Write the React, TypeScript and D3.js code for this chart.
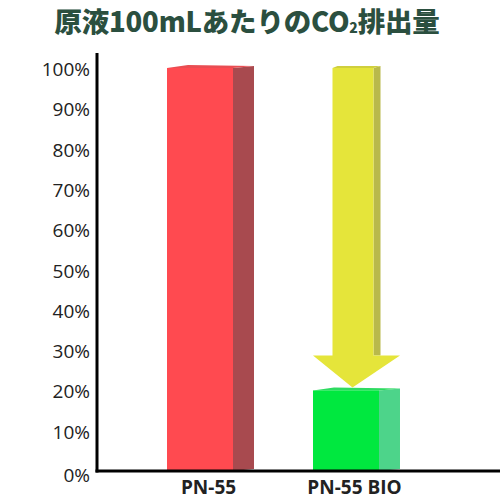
import * as d3 from "d3";

// chart data
const TITLE_MAIN = "原液100mLあたりのCO";
const TITLE_SUB = "2";
const TITLE_END = "排出量";
const CATEGORIES = ["PN-55", "PN-55 BIO"];
const VALUES = [100, 20];
const TICKS = [0, 10, 20, 30, 40, 50, 60, 70, 80, 90, 100];
const ARROW_FROM = 100;
const ARROW_TO = 20;

const FRONT = ["#ff4a50", "#00e83f"];
const SIDE = ["#a84a4f", "#4dd48a"];
const TOP = ["#e94d52", "#2edb60"];

export default function App() {
	const width = 500;
	const height = 500;
	const baseY = 471;
	const axisX = 97;

	const y = d3.scaleLinear().domain([0, 100]).range([baseY, 68]);
	const x = d3.scaleBand<string>().domain(CATEGORIES).range([87, 459]).padding(0.548);
	const depth = 21;
	const bw = x.bandwidth();

	// arrow sits over the second box (front + side)
	const bx = x(CATEGORIES[1])!;
	const arrowCx = bx + (bw + depth) / 2;
	const shaftW = 41;
	const headW = 87;
	const headH = 32;
	const tipY = y(ARROW_TO) - 3;
	const headTop = tipY - headH;
	const shaftTop = y(ARROW_FROM);
	const sx0 = arrowCx - 24;
	const sx1 = sx0 + shaftW;

	return (
		<svg width={width} height={height} style={{ position: "absolute", left: 0, top: 0, background: "#fff" }}>
			{/* Title */}
			<text
				x={247}
				y={32}
				textAnchor="middle"
				fontFamily="'Noto Sans CJK JP', sans-serif"
				fontWeight={900}
				fontSize={27.5}
				fill="#2b4f3f"
				letterSpacing={-0.2}
			>
				{TITLE_MAIN}
				<tspan fontSize={14} dy={1}>{TITLE_SUB}</tspan>
				<tspan dy={-1}>{TITLE_END}</tspan>
			</text>

			{/* Y tick labels */}
			{TICKS.map(t => (
				<text
					key={t}
					x={90}
					y={y(t) + (t === 0 ? 4 : 1)}
					dominantBaseline="central"
					textAnchor="end"
					fontFamily="'Open Sans', sans-serif"
					fontSize={19}
					fill="#222"
				>
					{t}%
				</text>
			))}

			{/* Bars with side/top faces */}
			{CATEGORIES.map((c, i) => {
				const x0 = x(c)!;
				const x1 = x0 + bw;
				const top = y(VALUES[i]);
				return (
					<g key={c}>
						<polygon
							points={`${x1},${top} ${x1 + depth},${top - 2} ${x1 + depth},${baseY - 2} ${x1},${baseY}`}
							fill={SIDE[i]}
						/>
						<polygon
							points={`${x0},${top} ${x0 + depth},${top - 3} ${x1 + depth},${top - 2} ${x1},${top}`}
							fill={TOP[i]}
						/>
						<rect x={x0} y={top} width={bw} height={baseY - top} fill={FRONT[i]} />
					</g>
				);
			})}

			{/* Arrow */}
			<polygon
				points={`${sx1},${shaftTop} ${sx1 + 7},${shaftTop - 2} ${sx1 + 7},${headTop} ${sx1},${headTop}`}
				fill="#b9b94b"
			/>
			<polygon
				points={`${sx0},${shaftTop} ${sx0 + 5},${shaftTop - 2} ${sx1 + 7},${shaftTop - 2} ${sx1},${shaftTop}`}
				fill="#cfcf3e"
			/>
			<polygon
				points={`${sx0},${shaftTop} ${sx1},${shaftTop} ${sx1},${headTop} ${arrowCx + headW / 2},${headTop} ${arrowCx - 4},${tipY} ${arrowCx - headW / 2},${headTop} ${sx0},${headTop}`}
				fill="#e5e53a"
			/>

			{/* Axes */}
			<line x1={axisX} x2={axisX} y1={53} y2={baseY + 1.5} stroke="#000" strokeWidth={3} />
			<line x1={axisX - 1.5} x2={width} y1={baseY} y2={baseY} stroke="#000" strokeWidth={3} />

			{/* X labels */}
			{CATEGORIES.map(c => (
				<text
					key={c}
					x={x(c)! + (bw + depth) / 2 - 2}
					y={494}
					textAnchor="middle"
					fontFamily="'Open Sans', sans-serif"
					fontWeight={700}
					fontSize={19}
					fill="#222"
				>
					{c}
				</text>
			))}
		</svg>
	);
}
